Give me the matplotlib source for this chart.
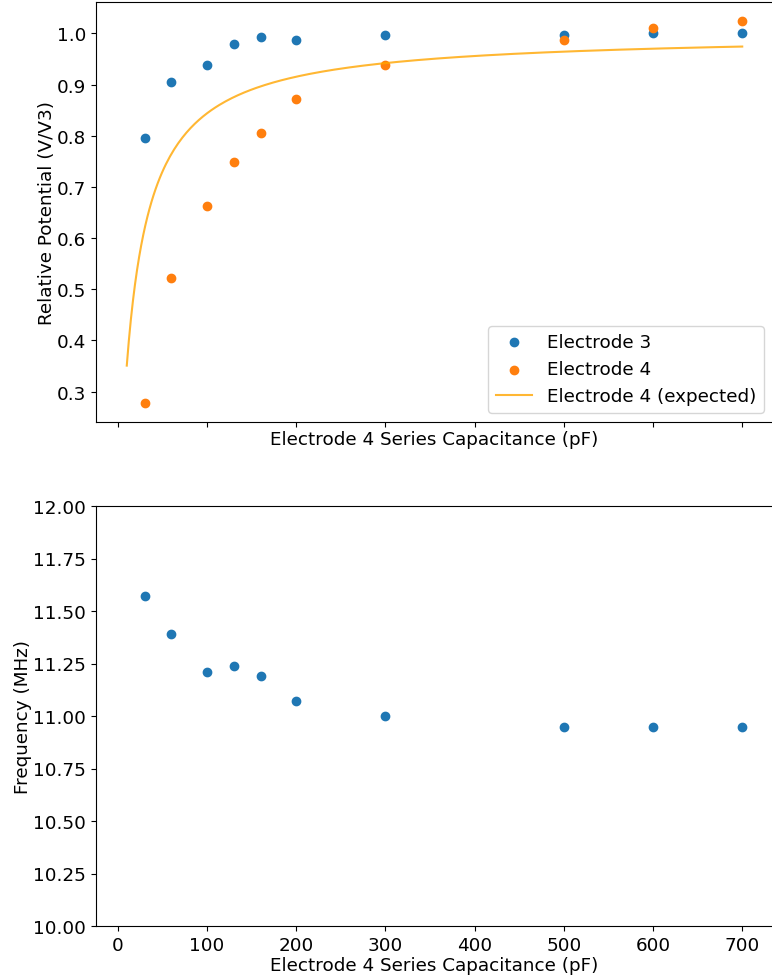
import numpy as np
import matplotlib
matplotlib.use("Agg")
import matplotlib.pyplot as plt

plt.rcParams['font.size'] = 13.2

# series capacitance on electrode 4 (pF)
cap = [30, 60, 100, 130, 160, 200, 300, 500, 600, 700]

# potentials relative to electrode 3 reference
v_e3 = [0.796, 0.905, 0.939, 0.980, 0.993, 0.987, 0.997, 0.997, 1.001, 1.001]
v_e4 = [0.278, 0.523, 0.663, 0.748, 0.806, 0.871, 0.939, 0.987, 1.011, 1.024]

# resonance frequency (MHz)
freq = [11.57, 11.39, 11.21, 11.24, 11.19, 11.07, 11.00, 10.95, 10.95, 10.95]

# capacitive divider model: V/V3 = C / (C + C_e)
c_electrode = 18.5
c_model = np.linspace(10, 700, 300)
v_model = c_model / (c_model + c_electrode)

fig = plt.figure(figsize=(7.72, 9.79), dpi=100)
ax1 = fig.add_axes([96/772, 1 - 423/979, 677/772, 420/979])
ax2 = fig.add_axes([96/772, 1 - 927/979, 677/772, 420/979], sharex=ax1)

ax1.scatter(cap, v_e3, label='Electrode 3')
ax1.scatter(cap, v_e4, label='Electrode 4')
ax1.plot(c_model, v_model, color='orange', alpha=0.8, label='Electrode 4 (expected)')
ax1.set_ylabel('Relative Potential (V/V3)', labelpad=1)
ax1.set_xlabel('Electrode 4 Series Capacitance (pF)', labelpad=2)
ax1.legend(loc='lower right')
plt.setp(ax1.get_xticklabels(), visible=False)

ax2.scatter(cap, freq)
ax2.set_ylim(10, 12)
ax2.set_ylabel('Frequency (MHz)', labelpad=1)
ax2.set_xlabel('Electrode 4 Series Capacitance (pF)', labelpad=2)

fig.savefig('out.png', dpi=100)
